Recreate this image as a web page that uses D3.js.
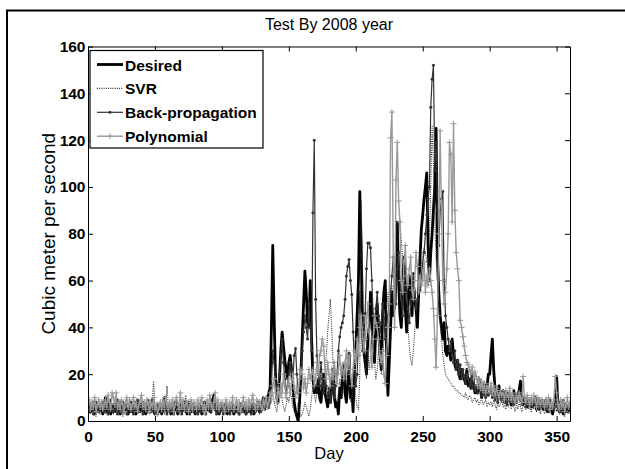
<!DOCTYPE html>
<html>
<head>
<meta charset="utf-8">
<script src="https://cdn.jsdelivr.net/npm/d3@7"></script>
<style>
  body { margin: 0; background: #fff; }
  text { font-family: "Liberation Sans", Arial, Helvetica, sans-serif; }
</style>
</head>
<body>
<div id="chart-area"></div>
<script>
// daily flow values, day 0 .. 360
const DESIRED = [
  5,7,4,6,8,3,5,6,4,7, 6,3,5,10,4,6,8,3,5,7, 4,6,9,5,3,7,8,4,6,5, 3,6,8,4,5,7,3,9,6,4,
  5,8,6,3,4,7,5,6,9,4, 3,5,7,4,6,3,5,10,6,4, 5,7,3,6,4,8,5,3,6,7, 4,5,8,6,3,5,7,4,6,5,
  3,6,4,7,5,3,6,8,4,5, 7,4,6,9,11,5,4,6,3,5, 6,4,7,5,3,6,4,5,7,3, 5,6,4,3,7,5,4,6,3,5,
  6,4,5,7,3,5,6,8,4,5, 7,10,9,6,8,12,14,40,75,45, 20,10,8,18,30,38,32,26,22,18, 25,28,22,15,8,4,2,0,8,20,
  35,50,64,55,42,40,60,35,18,12, 15,12,18,10,8,14,20,12,9,6, 12,8,15,22,10,6,8,3,14,10, 18,24,12,8,16,29,10,14,4,22,
  30,45,60,98,75,40,30,25,20,35, 40,55,48,30,25,40,50,38,30,22, 45,55,60,30,11,25,40,55,45,50, 65,85,60,45,40,55,70,48,38,50,
  62,55,45,60,52,48,40,55,70,82, 88,95,100,106,75,60,72,80,90,100, 125,70,55,45,40,35,42,30,28,32, 30,26,35,28,24,22,26,20,18,22,
  20,18,16,22,15,18,14,20,16,12, 15,12,18,14,10,12,16,11,14,20, 20,28,35,22,14,12,10,15,12,9, 13,10,8,12,9,11,7,10,13,9,
  8,11,13,17,9,7,10,8,6,9, 7,9,6,8,10,5,7,9,6,8, 5,7,9,4,6,8,5,3,7,10, 19,6,4,8,5,3,7,4,6,5,
  4
]

const SVR = [
  4,6,3,5,7,4,2,6,5,3, 5,7,4,3,6,8,5,4,6,3, 5,4,7,3,6,5,2,4,6,5, 3,6,4,8,5,3,6,4,5,7,
  4,3,6,5,7,4,3,5,8,17, 6,4,3,5,7,4,6,3,5,15, 5,4,6,3,5,7,4,6,3,5, 7,4,5,11,6,3,5,8,4,6,
  3,5,7,4,9,5,3,6,4,5, 6,4,3,7,5,8,4,6,3,5, 4,6,5,3,7,4,6,5,3,6, 5,4,7,3,5,6,4,8,5,3,
  6,4,5,7,3,6,4,5,3,6, 4,7,5,6,8,5,7,10,12,8, 6,4,8,10,12,9,6,4,7,10, 8,12,10,6,4,3,5,8,4,2,
  3,5,8,6,4,2,5,10,15,12, 8,12,18,22,15,10,14,20,28,38, 45,52,40,25,15,10,8,12,18,14, 10,15,20,25,18,12,8,10,14,18,
  10,6,5,20,94,66,40,25,18,30, 22,28,35,30,25,18,22,30,26,20, 25,35,40,48,55,45,52,58,50,62, 68,75,80,86,77,70,62,55,48,40,
  32,26,24,30,38,45,52,58,62,66, 70,74,72,68,65,78,100,126,110,85, 70,60,50,42,35,28,24,20,19,18, 17,16,15,15,14,13,13,12,12,11,
  11,10,12,10,9,11,10,8,9,10, 8,9,7,8,10,7,8,9,6,8, 7,8,6,9,7,5,8,6,7,9, 6,7,5,8,6,9,5,7,6,4,
  7,5,8,6,4,7,6,5,8,5, 6,4,7,5,8,4,6,5,3,7, 5,3,6,4,7,5,3,6,4,5, 4,6,3,5,7,4,2,5,6,3,
  4
]

const BACKPROP = [
  6,4,7,5,3,6,8,5,4,6, 5,8,4,6,7,3,5,9,6,4, 7,5,3,6,8,4,6,5,7,3, 5,7,4,6,3,8,5,6,4,7,
  6,3,5,7,4,9,6,4,5,8, 4,6,3,5,7,4,6,8,5,3, 6,4,7,5,3,6,8,4,5,6, 3,7,5,4,6,8,3,5,7,4,
  6,5,3,7,4,6,5,8,3,6, 5,7,4,6,10,5,3,6,4,7, 5,3,6,4,7,5,3,6,5,4, 6,4,5,3,7,4,6,5,3,6,
  4,6,3,5,7,4,6,5,8,4, 6,8,5,7,10,6,8,15,30,25, 18,10,15,20,28,35,25,18,12,15, 20,25,22,18,28,31,20,12,15,22,
  30,38,45,40,35,50,40,30,89,120, 52,28,20,15,25,18,12,20,15,10, 14,8,12,18,10,15,20,30,36,40, 42,45,52,62,66,69,60,54,38,25,
  15,20,35,55,45,30,35,46,65,76, 76,74,60,45,40,48,55,45,38,42, 50,44,35,40,45,50,55,62,70,58, 50,65,72,60,52,45,58,66,55,48,
  42,50,58,63,55,48,52,60,56,62, 68,72,80,88,95,100,134,146,152,107, 119,90,75,89,95,98,60,45,40,35, 30,34,28,25,30,22,26,20,24,18,
  22,19,16,20,18,15,17,14,18,13, 15,12,16,13,11,14,12,10,13,11, 12,14,10,12,9,11,8,10,12,9, 10,8,11,7,9,12,8,10,7,9,
  8,10,12,9,7,10,8,6,9,7, 8,6,9,7,10,6,8,5,7,9, 6,8,5,7,4,9,6,5,8,6, 7,5,8,4,6,9,5,7,4,6,
  5
]

const POLYNOMIAL = [
  7,9,5,8,6,10,4,7,9,6, 8,5,7,9,6,11,8,5,12,10, 7,12,6,8,5,9,7,4,8,10, 6,9,5,7,10,6,8,4,7,9,
  11,6,8,5,9,7,4,8,6,10, 5,7,3,6,8,5,9,6,10,7, 5,8,6,9,4,7,10,8,5,12, 6,9,5,7,8,4,6,9,5,8,
  7,5,9,6,8,10,5,7,4,9, 6,11,7,5,8,12,6,9,5,7, 8,6,4,9,7,5,8,6,10,5, 7,9,5,8,4,7,10,6,8,5,
  9,6,8,11,7,5,9,6,8,7, 5,9,7,10,6,8,12,9,15,18, 12,8,14,10,16,12,20,15,10,14, 18,12,16,20,14,10,15,12,18,22,
  20,14,18,12,16,22,18,20,22,15, 18,25,20,28,30,35,32,22,18,25, 20,15,22,18,25,20,16,22,28,20, 24,18,25,30,22,28,20,15,22,30,
  25,35,28,40,45,38,30,35,42,50, 38,30,23,35,45,42,40,35,28,25, 30,20,16,28,40,50,121,132,70,40, 103,119,94,85,60,55,68,75,62,58,
  65,70,56,52,60,72,66,55,62,58, 60,68,55,62,58,65,60,55,48,35, 23,45,80,124,89,60,50,55,65,80, 119,114,85,127,90,72,65,60,43,40,
  36,32,28,25,24,22,20,23,18,21, 19,15,18,14,17,13,16,12,15,14, 13,16,12,15,11,14,12,10,13,11, 12,9,13,11,10,14,9,12,10,8,
  11,9,12,10,8,19,10,8,11,9, 7,10,8,11,9,6,10,8,7,9, 8,6,9,7,10,5,8,6,9,19, 12,7,5,9,6,8,4,7,10,6,
  8
]

const SERIES_NAMES = ["Desired", "SVR", "Back-propagation", "Polynomial"]
const X_TICKS = [0, 50, 100, 150, 200, 250, 300, 350]
const Y_TICKS = [0, 20, 40, 60, 80, 100, 120, 140, 160]

const MARGIN = { LEFT: 88, RIGHT: 55, TOP: 46.5, BOTTOM: 48 }
const WIDTH = 625 - MARGIN.LEFT - MARGIN.RIGHT
const HEIGHT = 469 - MARGIN.TOP - MARGIN.BOTTOM

// line style per series (same order as SERIES_NAMES)
const STYLES = [
  { color: "#000", width: 2.8, dash: null, marker: null },
  { color: "#333", width: 1.1, dash: "1,1.2", marker: null },
  { color: "#333", width: 1.2, dash: null, marker: "dot" },
  { color: "#999", width: 1.4, dash: null, marker: "plus" }
]

const svg = d3.select("#chart-area")
  .append("svg")
  .attr("width", 625)
  .attr("height", 469)

// figure frame, only left/top edges fall inside the picture
svg.append("rect")
  .attr("x", 7).attr("y", 10.5)
  .attr("width", 700).attr("height", 500)
  .attr("fill", "none")
  .attr("stroke", "#000")
  .attr("stroke-width", 2)

const g = svg.append("g")
  .attr("transform", `translate(${MARGIN.LEFT}, ${MARGIN.TOP})`)

const x = d3.scaleLinear().domain([0, 360]).range([0, WIDTH])
const y = d3.scaleLinear().domain([0, 160]).range([HEIGHT, 0])

g.append("defs").append("clipPath").attr("id", "plot-clip")
  .append("rect").attr("width", WIDTH).attr("height", HEIGHT)

const allSeries = [DESIRED, SVR, BACKPROP, POLYNOMIAL]

const line = d3.line()
  .x((d, i) => x(i))
  .y(d => y(d))

const plot = g.append("g").attr("clip-path", "url(#plot-clip)")

allSeries.forEach((values, k) => {
  const st = STYLES[k]
  plot.append("path")
    .datum(values)
    .attr("fill", "none")
    .attr("stroke", st.color)
    .attr("stroke-width", st.width)
    .attr("stroke-linejoin", "round")
    .attr("stroke-dasharray", st.dash)
    .attr("d", line)

  if (st.marker === "dot") {
    plot.append("g").selectAll("circle")
      .data(values)
      .enter().append("circle")
      .attr("cx", (d, i) => x(i))
      .attr("cy", d => y(d))
      .attr("r", 1.5)
      .attr("fill", st.color)
  }
  if (st.marker === "plus") {
    plot.append("g").selectAll("path")
      .data(values)
      .enter().append("path")
      .attr("d", (d, i) => `M${x(i) - 3},${y(d)}h6M${x(i)},${y(d) - 3}v6`)
      .attr("stroke", st.color)
      .attr("stroke-width", 1)
  }
})

// axes, MATLAB style: ticks point inwards on all four sides
const styleAxis = sel => {
  sel.select(".domain").attr("stroke", "#000").attr("stroke-width", 1)
  sel.selectAll(".tick line").attr("stroke", "#000")
  sel.selectAll("text")
    .attr("fill", "#000")
    .attr("font-size", "15.5px")
    .attr("font-weight", "bold")
    .attr("font-family", "Liberation Sans, Arial, sans-serif")
}

g.append("g")
  .attr("transform", `translate(0,${HEIGHT})`)
  .call(d3.axisBottom(x).tickValues(X_TICKS).tickSizeInner(-5).tickSizeOuter(0).tickPadding(10))
  .call(styleAxis)

g.append("g")
  .call(d3.axisLeft(y).tickValues(Y_TICKS).tickSizeInner(-5).tickSizeOuter(0).tickPadding(2.5))
  .call(styleAxis)

g.append("g")
  .call(d3.axisTop(x).tickValues(X_TICKS).tickSizeInner(-5).tickSizeOuter(0).tickFormat(""))
  .call(styleAxis)

g.append("g")
  .attr("transform", `translate(${WIDTH},0)`)
  .call(d3.axisRight(y).tickValues(Y_TICKS).tickSizeInner(-5).tickSizeOuter(0).tickFormat(""))
  .call(styleAxis)

// title and axis labels
svg.append("text")
  .attr("x", MARGIN.LEFT + WIDTH / 2)
  .attr("y", 30)
  .attr("text-anchor", "middle")
  .attr("font-size", "16px")
  .text("Test By 2008 year")

svg.append("text")
  .attr("x", MARGIN.LEFT + WIDTH / 2)
  .attr("y", 459)
  .attr("text-anchor", "middle")
  .attr("font-size", "16.5px")
  .text("Day")

svg.append("text")
  .attr("transform", `translate(54.5, ${MARGIN.TOP + HEIGHT / 2}) rotate(-90)`)
  .attr("text-anchor", "middle")
  .attr("font-size", "19px")
  .text("Cubic meter per second")

// legend
const legend = svg.append("g").attr("transform", "translate(90, 50.5)")

legend.append("rect")
  .attr("width", 173)
  .attr("height", 97.5)
  .attr("fill", "#fff")
  .attr("stroke", "#000")
  .attr("stroke-width", 1.2)

SERIES_NAMES.forEach((name, k) => {
  const st = STYLES[k]
  const row = legend.append("g").attr("transform", `translate(0, ${14 + k * 23.9})`)
  row.append("line")
    .attr("x1", 7).attr("x2", 33)
    .attr("stroke", st.color)
    .attr("stroke-width", st.width)
    .attr("stroke-dasharray", st.dash)
  if (st.marker === "dot") {
    row.append("circle").attr("cx", 20).attr("r", 1.5).attr("fill", st.color)
  }
  if (st.marker === "plus") {
    row.append("path").attr("d", "M17,0h6M20,-3v6").attr("stroke", st.color)
  }
  row.append("text")
    .attr("x", 35)
    .attr("y", 6)
    .attr("font-size", "15.5px")
    .attr("font-weight", "bold")
    .text(name)
})
</script>
</body>
</html>
